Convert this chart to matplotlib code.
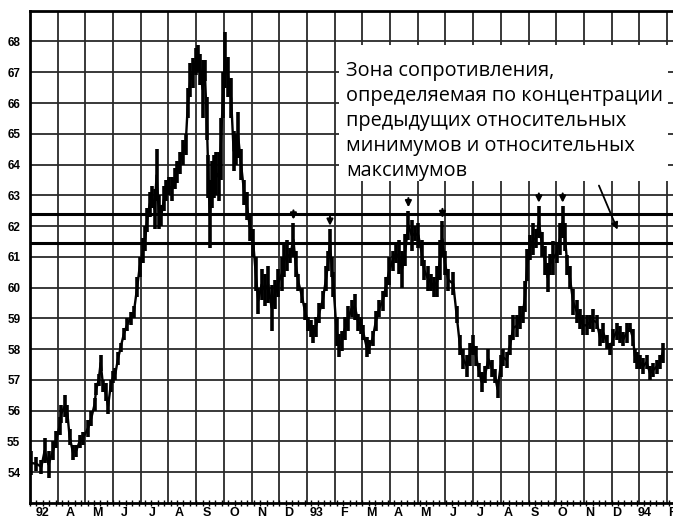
#!/usr/bin/env python3

"""Resistance zone chart: daily high/low bars, 1992-1994."""

import matplotlib

matplotlib.use("Agg")

import matplotlib.pyplot as plt
import matplotlib.transforms as mtransforms
from matplotlib.patches import Rectangle
import numpy as np

###############################################################################
# Data (months counted from March 1992)
###############################################################################

month_pos = [
    0.05, 0.23, 0.41, 0.53, 0.67, 0.83, 0.95, 1.07, 1.13, 1.25, 1.35, 1.43,
    1.55, 1.67, 1.79, 1.91, 2.09, 2.21, 2.33, 2.39, 2.48, 2.55, 2.64, 2.73,
    2.82, 2.91, 3.00, 3.08, 3.18, 3.27, 3.39, 3.51, 3.63, 3.75, 3.87, 3.96,
    4.08, 4.16, 4.23, 4.32, 4.40, 4.50, 4.57, 4.65, 4.74, 4.84, 4.92, 5.01,
    5.13, 5.22, 5.32, 5.40, 5.52, 5.62, 5.70, 5.79, 5.88, 5.98, 6.06, 6.15,
    6.23, 6.31, 6.38, 6.44, 6.49, 6.57, 6.64, 6.73, 6.81, 6.88, 6.97, 7.05,
    7.15, 7.26, 7.35, 7.44, 7.51, 7.62, 7.73, 7.83, 7.94, 8.06, 8.15, 8.24,
    8.36, 8.48, 8.60, 8.72, 8.84, 8.96, 9.09, 9.18, 9.29, 9.39, 9.51, 9.59,
    9.69, 9.81, 9.93, 10.05, 10.13, 10.23, 10.32, 10.44, 10.57, 10.69, 10.77,
    10.83, 10.89, 10.95, 11.07, 11.17, 11.26, 11.37, 11.49, 11.61, 11.73,
    11.85, 11.94, 12.03, 12.15, 12.25, 12.37, 12.49, 12.61, 12.73, 12.85,
    12.97, 13.09, 13.21, 13.31, 13.43, 13.55, 13.66, 13.78, 13.90, 14.02,
    14.14, 14.23, 14.36, 14.47, 14.58, 14.70, 14.80, 14.89, 14.98, 15.10,
    15.28, 15.40, 15.52, 15.64, 15.77, 15.88, 16.00, 16.10, 16.20, 16.31,
    16.43, 16.55, 16.67, 16.79, 16.88, 16.99, 17.09, 17.21, 17.33, 17.45,
    17.57, 17.69, 17.79, 17.87, 17.95, 18.05, 18.17, 18.27, 18.37, 18.48,
    18.59, 18.69, 18.77, 18.89, 19.01, 19.13, 19.23, 19.31, 19.40, 19.49,
    19.61, 19.74, 19.86, 19.97, 20.10, 20.22, 20.34, 20.46, 20.58, 20.70,
    20.82, 20.94, 21.06, 21.18, 21.30, 21.42, 21.54, 21.66, 21.76, 21.84,
    21.92, 22.02, 22.14, 22.26, 22.38, 22.50, 22.62, 22.74, 22.84,
]

low = [
    53.9, 54.05, 53.95, 54.3, 53.8, 54.4, 54.8, 55.2, 55.6, 55.8, 55.6, 54.9,
    54.4, 54.5, 54.8, 54.9, 55.15, 55.5, 56.0, 56.5, 56.8, 57.3, 56.6, 56.3,
    55.9, 56.6, 56.9, 57.0, 57.5, 57.9, 58.3, 58.6, 58.8, 59.0, 59.7, 60.35,
    60.8, 61.2, 61.8, 62.3, 62.6, 61.9, 62.8, 61.9, 62.0, 62.5, 62.8, 63.0,
    62.8, 63.2, 63.4, 63.7, 64.0, 64.3, 65.5, 66.2, 66.5, 66.9, 67.0, 66.6,
    65.5, 66.7, 64.8, 62.9, 61.3, 62.6, 62.9, 63.0, 62.8, 63.5, 65.5, 66.5,
    66.2, 65.5, 63.8, 64.0, 64.2, 63.5, 62.7, 62.2, 61.5, 61.0, 59.9, 59.15,
    59.6, 59.4, 59.5, 58.6, 59.3, 59.7, 59.9, 60.35, 60.55, 60.8, 61.0, 60.35,
    59.9, 59.5, 58.95, 58.6, 58.4, 58.2, 58.4, 58.85, 59.3, 59.9, 60.55,
    61.0, 60.35, 59.7, 58.1, 57.75, 57.95, 58.3, 58.6, 59.05, 58.95,
    58.6, 58.5, 58.3, 57.75, 57.85, 58.1, 58.6, 59.05, 59.25, 59.7,
    60.1, 60.55, 60.8, 60.45, 60.0, 60.7, 61.55, 61.2, 61.5, 61.3,
    60.7, 60.25, 59.9, 59.9, 59.7, 59.7, 60.25, 61.0, 60.4, 59.9,
    59.75, 58.85, 57.8, 57.35, 57.1, 57.45, 57.8, 57.45, 57.1, 56.6,
    56.9, 57.35, 57.1, 56.9, 56.4, 57.1, 57.45, 57.4, 57.8, 58.3,
    58.4, 58.65, 58.85, 59.2, 60.2, 60.9, 61.05, 61.3, 61.6, 61.0,
    60.4, 59.85, 60.4, 60.4, 60.8, 61.05, 61.6, 61.2, 60.4, 59.95,
    59.1, 58.85, 58.65, 58.45, 58.45, 58.65, 58.55, 58.65, 58.1, 58.2,
    58.0, 57.8, 58.1, 58.3, 58.2, 58.1, 58.2, 58.55, 58.1, 57.55,
    57.35, 57.35, 57.2, 57.35, 57.0, 57.1, 57.2, 57.35, 57.55,
]

high = [
    54.7, 54.5, 54.4, 55.1, 54.7, 55.0, 55.35, 55.8, 56.2, 56.5, 56.2, 55.4,
    54.9, 54.9, 55.2, 55.3, 55.7, 56.0, 56.4, 56.9, 57.2, 57.8, 57.0, 56.9,
    56.4, 57.0, 57.3, 57.4, 57.9, 58.2, 58.7, 59.0, 59.2, 59.4, 60.35, 61.0,
    61.6, 62.0, 62.6, 63.1, 63.3, 63.2, 64.5, 63.0, 62.7, 63.3, 63.5, 63.6,
    63.6, 63.9, 64.1, 64.4, 64.8, 65.0, 66.5, 67.3, 67.45, 67.8, 67.9, 67.6,
    67.4, 67.4, 66.2, 64.3, 63.5, 64.1, 64.3, 64.4, 64.4, 65.5, 67.0, 68.3,
    67.5, 66.8, 65.1, 65.0, 65.7, 64.5, 63.5, 63.1, 62.4, 61.9, 61.0, 60.0,
    60.6, 60.45, 60.7, 60.1, 60.25, 60.6, 61.0, 61.45, 61.55, 61.3, 62.1, 61.2,
    60.45, 60.0, 59.5, 59.05, 58.95, 58.8, 59.05, 59.5, 59.9, 60.7, 61.2,
    61.9, 61.0, 60.5, 59.05, 58.5, 58.6, 59.05, 59.4, 59.6, 59.8,
    59.15, 59.05, 58.8, 58.4, 58.3, 58.6, 59.25, 59.6, 59.9, 60.35,
    61.0, 61.2, 61.4, 61.55, 61.2, 61.75, 62.5, 62.2, 62.0, 62.1,
    61.55, 60.9, 60.7, 60.45, 60.35, 60.7, 61.55, 62.15, 61.2, 60.6,
    60.5, 59.4, 58.45, 58.0, 57.8, 58.2, 58.45, 58.1, 57.55, 57.25,
    57.45, 58.0, 57.65, 57.35, 57.0, 57.8, 58.0, 57.9, 58.45, 59.1,
    59.1, 59.4, 59.4, 60.2, 61.25, 61.7, 62.1, 61.9, 62.65, 61.8,
    61.35, 60.8, 61.1, 61.5, 61.45, 62.1, 62.65, 62.1, 61.05, 60.7,
    59.95, 59.6, 59.3, 59.1, 59.1, 59.1, 59.3, 59.1, 58.65, 58.85,
    58.45, 58.2, 58.65, 58.85, 58.75, 58.55, 58.85, 58.85, 58.65, 58.0,
    57.9, 57.8, 57.7, 57.8, 57.45, 57.55, 57.65, 57.8, 58.2,
]

month_labels = ["92", "A", "M", "J", "J", "A", "S", "O", "N", "D",
                "93", "F", "M", "A", "M", "J", "J", "A", "S", "O", "N", "D",
                "94", "F"]
price_ticks = list(range(54, 69))

# resistance zone and the relative highs pointed out on the chart
zone_lines = [62.4, 61.45]
marked_peaks = [9.51, 10.83, 13.66, 14.89, 18.37, 19.23]

note = ("Зона сопротивления,\n"
        "определяемая по концентрации\n"
        "предыдущих относительных\n"
        "минимумов и относительных\n"
        "максимумов")

###############################################################################
# Figure
###############################################################################

fig = plt.figure(figsize=(6.73, 5.2), dpi=100)
# axes run past the right edge of the canvas, like the cropped scan
ax = fig.add_axes([30 / 673, 17 / 520, 24 * 27.7 / 673, 492.3 / 520])

ax.set_xlim(0, 24)
ax.set_ylim(53, 69)

grid_kw = dict(color="#2a2a2a", lw=1.3, zorder=1)
for m in range(1, 24):
    ax.axvline(m, **grid_kw)
for p in price_ticks:
    ax.axhline(p, **grid_kw)
for z in zone_lines:
    ax.axhline(z, color="black", lw=2.2, zorder=2)

x = np.array(month_pos)
lo = np.array(low)
hi = np.array(high)
ax.vlines(x, lo, hi, color="black", lw=2.6, zorder=4)
ax.plot(x, (lo + hi) / 2, color="black", lw=1.7, zorder=4)

for pk in marked_peaks:
    i = int(np.argmin(np.abs(x - pk)))
    ax.annotate("", xy=(x[i], hi[i] + 0.02), xytext=(x[i], hi[i] + 0.5),
                arrowprops=dict(arrowstyle="-|>", color="black", lw=1.5,
                                mutation_scale=9), zorder=5)

# note box on top of the grid
ax.add_patch(Rectangle((11.15, 63.45), 11.9, 4.45, facecolor="white",
                       edgecolor="none", zorder=3))
ax.text(11.4, 67.35, note, fontsize=14.3, family="Open Sans",
        color="black", va="top", ha="left", linespacing=1.33, zorder=6)
ax.annotate("", xy=(21.25, 61.8), xytext=(20.5, 63.4),
            arrowprops=dict(arrowstyle="-|>", color="black", lw=1.3,
                            mutation_scale=10), zorder=5)

# ticks and labels
ax.set_xticks([])
ax.xaxis.set_minor_locator(plt.MultipleLocator(12 / 52))
ax.tick_params(axis="x", which="minor", direction="inout", length=5,
               width=1, color="black")
ax.set_yticks(price_ticks)
ax.set_yticklabels([str(p) for p in price_ticks])
ax.tick_params(axis="y", length=0, pad=7)
for lbl in ax.get_yticklabels():
    lbl.set_fontfamily("Liberation Sans")
    lbl.set_fontweight("bold")
    lbl.set_fontsize(8.5)

# the printed month letters drift a little left of the month centres
trans = mtransforms.blended_transform_factory(ax.transData, ax.transAxes)
for m, lab in enumerate(month_labels):
    ax.text(m + 0.45 - 0.012 * m, -0.021, lab, transform=trans,
            ha="center", va="center", fontsize=9, fontweight="bold",
            family="Liberation Sans", clip_on=False)

for side in ("left", "top", "bottom"):
    ax.spines[side].set_linewidth(2)
ax.spines["right"].set_visible(False)

fig.savefig("out.png", dpi=100)
